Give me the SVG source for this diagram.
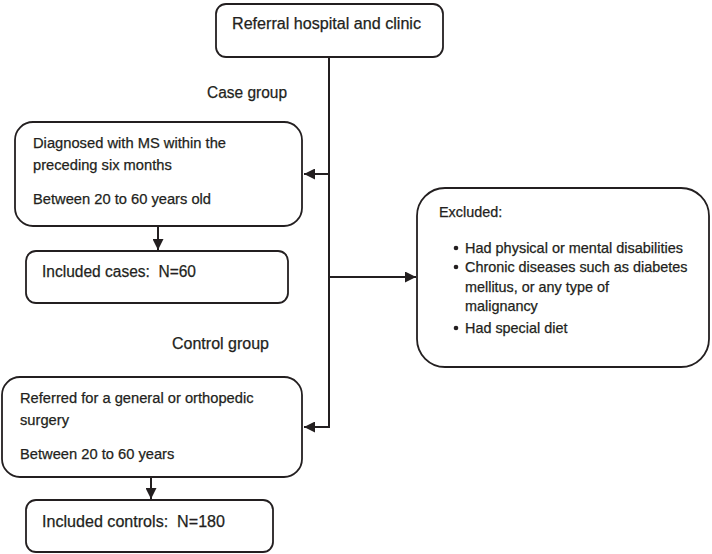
<svg xmlns="http://www.w3.org/2000/svg" width="712" height="554" viewBox="0 0 712 554">
<style>
.box{fill:#fff;stroke:#231f20;stroke-width:1.8}
.ln{fill:none;stroke:#231f20;stroke-width:2}
text{font-family:"Liberation Sans",Arial,sans-serif;fill:#231f20;stroke:#231f20;stroke-width:0.25}
.t15{font-size:16px}
.t14{font-size:14.7px}
.t13{font-size:14.4px}
</style>
<defs>
<marker id="ah" viewBox="0 0 10 10" refX="10" refY="5" markerWidth="5.5" markerHeight="5.5" orient="auto" markerUnits="strokeWidth">
<path d="M0,0 L10,5 L0,10 z" fill="#231f20"/>
</marker>
</defs>
<rect width="712" height="554" fill="#fff"/>
<g id="connectors">
<path class="ln" d="M329,57 V427 H304" marker-end="url(#ah)"/>
<path class="ln" d="M329,174 H304" marker-end="url(#ah)"/>
<path class="ln" d="M329,277 H416" marker-end="url(#ah)"/>
<path class="ln" d="M158,226 V250" marker-end="url(#ah)"/>
<path class="ln" d="M151,477 V499" marker-end="url(#ah)"/>
</g>
<g id="referral">
<rect class="box" x="216" y="4" width="227" height="53" rx="10"/>
<text class="t15" x="232" y="29" textLength="189" lengthAdjust="spacingAndGlyphs">Referral hospital and clinic</text>
</g>
<g id="case-label">
<text class="t15" x="207" y="98" textLength="80" lengthAdjust="spacingAndGlyphs">Case group</text>
</g>
<g id="case">
<rect class="box" x="15" y="122" width="287" height="104" rx="18"/>
<text class="t14" x="33" y="148" textLength="193" lengthAdjust="spacingAndGlyphs">Diagnosed with MS within the</text>
<text class="t14" x="33" y="170">preceding six months</text>
<text class="t14" x="33" y="204">Between 20 to 60 years old</text>
</g>
<g id="included-cases">
<rect class="box" x="26" y="251" width="262" height="52" rx="10"/>
<text class="t15" x="42" y="277" xml:space="preserve" textLength="154" lengthAdjust="spacingAndGlyphs">Included cases:  N=60</text>
</g>
<g id="excluded">
<rect class="box" x="417" y="188" width="292" height="179" rx="28"/>
<text class="t13" x="439" y="217">Excluded:</text>
<circle cx="456" cy="248" r="2.3" fill="#231f20"/>
<text class="t13" x="465" y="253" textLength="218" lengthAdjust="spacingAndGlyphs">Had physical or mental disabilities</text>
<circle cx="456" cy="267" r="2.3" fill="#231f20"/>
<text class="t13" x="465" y="272">Chronic diseases such as diabetes</text>
<text class="t13" x="465" y="292">mellitus, or any type of</text>
<text class="t13" x="465" y="311">malignancy</text>
<circle cx="456" cy="328" r="2.3" fill="#231f20"/>
<text class="t13" x="465" y="333">Had special diet</text>
</g>
<g id="control-label">
<text class="t15" x="172" y="349" textLength="97" lengthAdjust="spacingAndGlyphs">Control group</text>
</g>
<g id="control">
<rect class="box" x="2" y="377" width="300" height="100" rx="18"/>
<text class="t14" x="20" y="403">Referred for a general or orthopedic</text>
<text class="t14" x="20" y="425">surgery</text>
<text class="t14" x="20" y="459">Between 20 to 60 years</text>
</g>
<g id="included-controls">
<rect class="box" x="26" y="500" width="247" height="52" rx="10"/>
<text class="t15" x="42" y="527" xml:space="preserve" textLength="183" lengthAdjust="spacingAndGlyphs">Included controls:  N=180</text>
</g>
</svg>
